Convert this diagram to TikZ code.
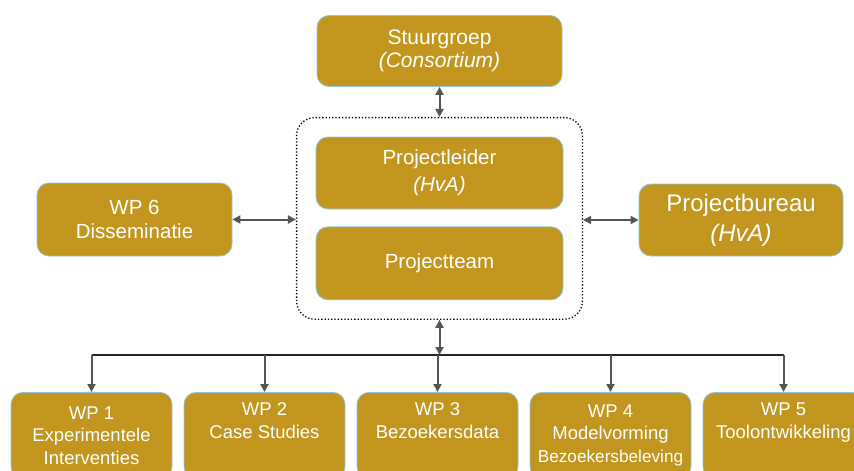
\documentclass[tikz,border=0pt]{standalone}
\usepackage{fontspec}
\setmainfont{Liberation Sans}
\usetikzlibrary{positioning, fit, arrows.meta}
\definecolor{goud}{HTML}{C2961E}
\definecolor{rand}{HTML}{8EC7D7}
\definecolor{pijl}{HTML}{555555}
\tikzset{
unit/.style={draw=rand, fill=goud, line width=0.8pt, rounded corners=12pt, text=white, align=center, inner sep=0pt}, % gold boxes
wpbox/.style={unit, anchor=north, minimum width=161pt, minimum height=86pt, font=\fontsize{18.5}{22.5}\selectfont},
link/.style={draw=pijl, line width=2pt, >={Triangle[length=8pt,width=8pt]}}, % grey arrows
kader/.style={draw, dotted, line width=1.3pt, rounded corners=18pt, inner sep=19pt},
}

\begin{document}
\begin{tikzpicture}[x=1pt,y=-1pt]
  \clip (0,0) rectangle (854,471);
  \node[unit, minimum width=245pt, minimum height=71pt, font=\fontsize{21}{23}\selectfont] (stuur) at (439.5,51) {Stuurgroep\\\textit{(Consortium)}};
  \node[unit, minimum width=247pt, minimum height=72pt, font=\fontsize{20.5}{27}\selectfont] (leider) at (439.5,173) {Projectleider\\\textit{(HvA)}};
  \node[unit, minimum width=247pt, minimum height=73pt, font=\fontsize{20.5}{27}\selectfont, below=17pt of leider] (team) {Projectteam};
  \node[kader, fit=(leider)(team)] (kern) {};
  \node[unit, minimum width=195pt, minimum height=73pt, font=\fontsize{20.5}{24}\selectfont] (wp6) at (134.5,219.5) {WP 6\\Disseminatie};
  \node[unit, minimum width=204pt, minimum height=72pt, font=\fontsize{24}{30}\selectfont] (bureau) at (741,220) {Projectbureau\\\textit{(HvA)}};

  \foreach \i/\txt in {1/{WP 1\\Experimentele\\Interventies},
                       2/{WP 2\\Case Studies\\\strut},
                       3/{WP 3\\Bezoekersdata\\\strut},
                       4/{WP 4\\Modelvorming\\{\fontsize{17.2}{22.5}\selectfont Bezoekersbeleving}},
                       5/{WP 5\\Toolontwikkeling\\\strut}}
    \node[wpbox] (wp\i) at ({91.5+173*(\i-1)},392) {\txt};

  \coordinate (hub) at (439.5,355);

  \draw[link,<->] (stuur) -- (kern);
  \draw[link,<->] (wp6.east) -- (wp6.east -| kern.west);
  \draw[link,<->] (bureau.west) -- (bureau.west -| kern.east);
  \draw[link,<->] (kern.south) -- (hub);
  \draw[line width=1.5pt, black!85] (wp1.north |- hub) -- (wp5.north |- hub);
  \foreach \i in {1,...,5}
    \draw[link,->] (wp\i.north |- hub) -- (wp\i.north);
\end{tikzpicture}
\end{document}
